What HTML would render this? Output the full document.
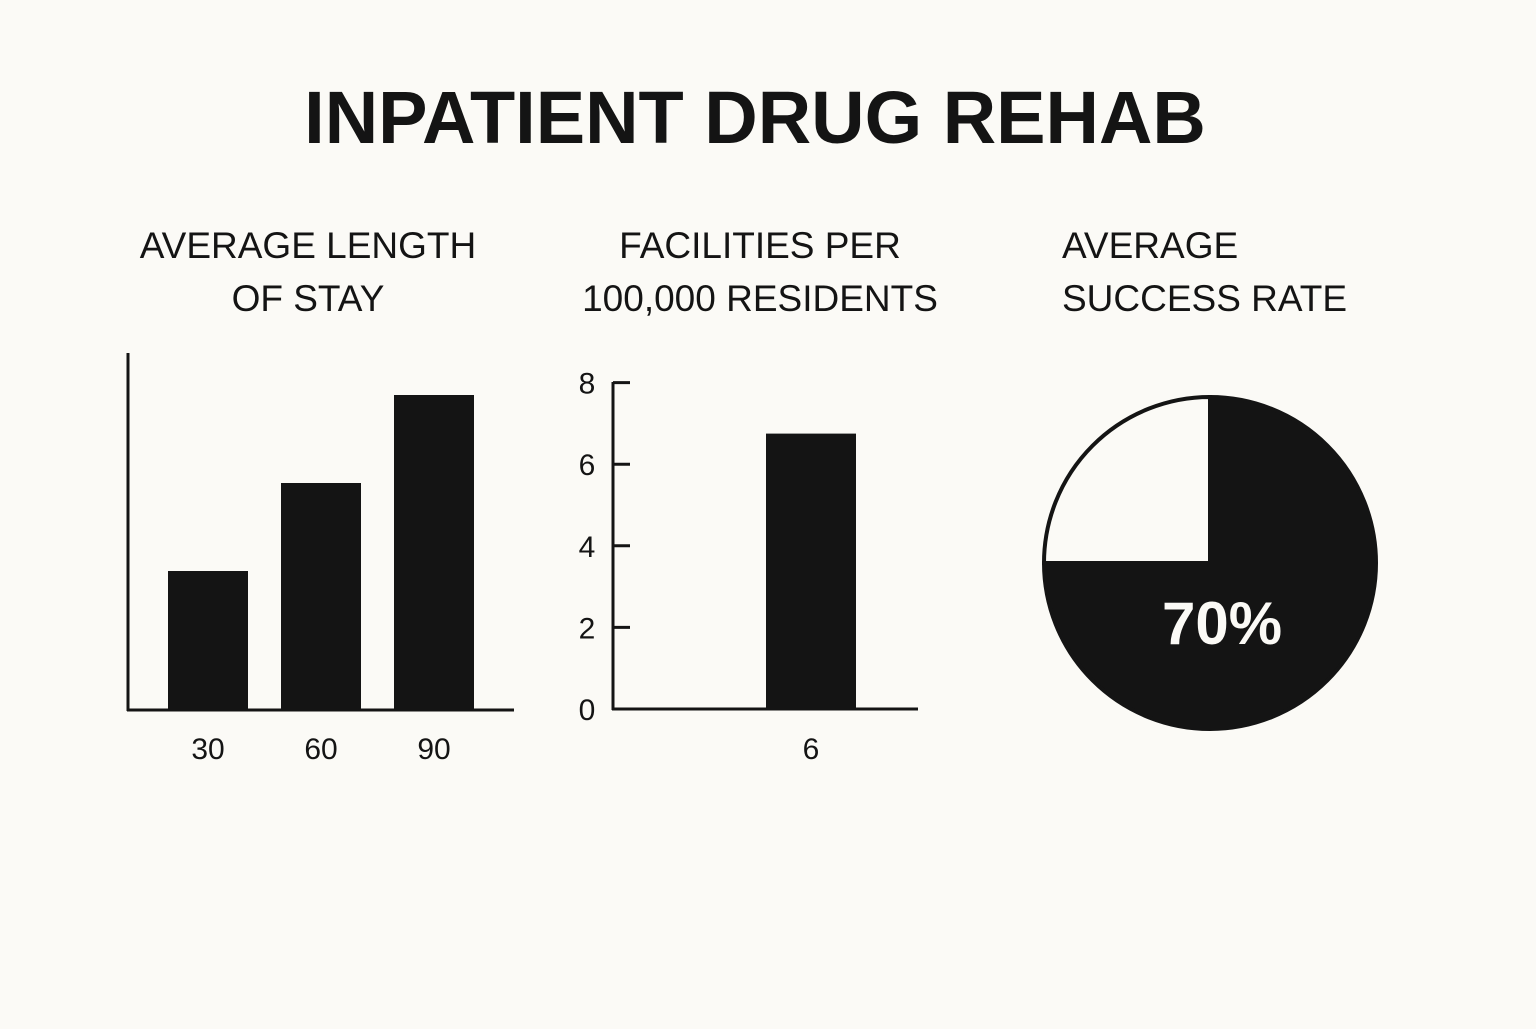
<!DOCTYPE html>
<html><head><meta charset="utf-8"><style>
html,body{margin:0;padding:0;background:#fbfaf6;}
body{width:1536px;height:1024px;overflow:hidden;font-family:"Liberation Sans",sans-serif;}
svg text{font-family:"Liberation Sans",sans-serif;fill:#141414;}
</style></head><body>
<svg width="1536" height="1024" viewBox="0 0 1536 1024">
<rect width="1536" height="1024" fill="#fbfaf6"/>
<text x="755" y="143" text-anchor="middle" font-size="74" font-weight="bold">INPATIENT DRUG REHAB</text>
<text x="308" y="258" text-anchor="middle" font-size="37">AVERAGE LENGTH</text>
<text x="308" y="311" text-anchor="middle" font-size="37">OF STAY</text>
<text x="760" y="258" text-anchor="middle" font-size="37">FACILITIES PER</text>
<text x="760" y="311" text-anchor="middle" font-size="37">100,000 RESIDENTS</text>
<text x="1062" y="258" font-size="37">AVERAGE</text>
<text x="1062" y="311" font-size="37">SUCCESS RATE</text>
<g id="c1"></g>
<g id="c2"></g>
<g id="c3"></g>
</svg>
<script>
const stayCategories = ["30","60","90"];
const stayValues = [139, 227, 315];
const facCategories = ["", "6"];
const facValues = [0, 6.75];
const facTicks = [0,2,4,6,8];
const successValues = [75, 25];
const successLabels = ["70%"];
const NS="http://www.w3.org/2000/svg";
function mk(p,t,a){const e=document.createElementNS(NS,t);for(const k in a)e.setAttribute(k,a[k]);p.appendChild(e);return e;}
// chart 1
const c1=document.getElementById('c1');
const y1=v=>710-v; const x1=i=>208+i*113;
let e=mk(c1,'line',{x1:128,y1:353,x2:128,y2:711,stroke:'#141414','stroke-width':3});

e=mk(c1,'line',{x1:127,y1:710,x2:514,y2:710,stroke:'#141414','stroke-width':3});

stayCategories.forEach((c,i)=>{
 const b=mk(c1,'rect',{x:x1(i)-40,y:y1(stayValues[i]),width:80,height:710-y1(stayValues[i]),fill:'#141414'});
 
 
 const t=mk(c1,'text',{x:x1(i),y:759,'text-anchor':'middle','font-size':30});t.textContent=c;
 
 
});
// chart 2
const c2=document.getElementById('c2');
const y2=v=>709-v*40.8; const x2=i=>720+i*91;
e=mk(c2,'line',{x1:613,y1:382,x2:613,y2:710,stroke:'#141414','stroke-width':3});

e=mk(c2,'line',{x1:612,y1:709,x2:918,y2:709,stroke:'#141414','stroke-width':3});

facTicks.forEach(v=>{
 const l=mk(c2,'line',{x1:613,y1:y2(v),x2:630,y2:y2(v),stroke:'#141414','stroke-width':3});
 
 
 const t=mk(c2,'text',{x:587,y:y2(v)+11,'text-anchor':'middle','font-size':30});t.textContent=v;
 
 
});
facCategories.forEach((c,i)=>{
 if(facValues[i]>0){
 const b=mk(c2,'rect',{x:x2(i)-45,y:y2(facValues[i]),width:90,height:709-y2(facValues[i]),fill:'#141414'});
 
 }
 if(c){const t=mk(c2,'text',{x:x2(i),y:759,'text-anchor':'middle','font-size':30});t.textContent=c;
 
 }
});
// chart 3 pie
const c3=document.getElementById('c3');
const cx=1210,cy=563,r=166;
const total=successValues.reduce((a,b)=>a+b,0);
let ang=0; const fills=['#141414','#fbfaf6'];
successValues.forEach((v,i)=>{
 const a0=ang, a1=ang+v/total*2*Math.PI; ang=a1;
 const p=a=>[cx+r*Math.sin(a),cy-r*Math.cos(a)];
 const [sx,sy]=p(a0),[ex,ey]=p(a1);
 const s=mk(c3,'path',{d:`M${cx},${cy} L${sx},${sy} A${r},${r} 0 ${a1-a0>Math.PI?1:0} 1 ${ex},${ey} Z`,fill:fills[i],stroke:'#141414','stroke-width':4,'stroke-linejoin':'miter'});
 
 
});
const lt=mk(c3,'text',{x:1222,y:644,'text-anchor':'middle','font-size':60,'font-weight':'bold',style:'fill:#fbfaf6'});
lt.textContent=successLabels[0];


</script>
</body></html>
